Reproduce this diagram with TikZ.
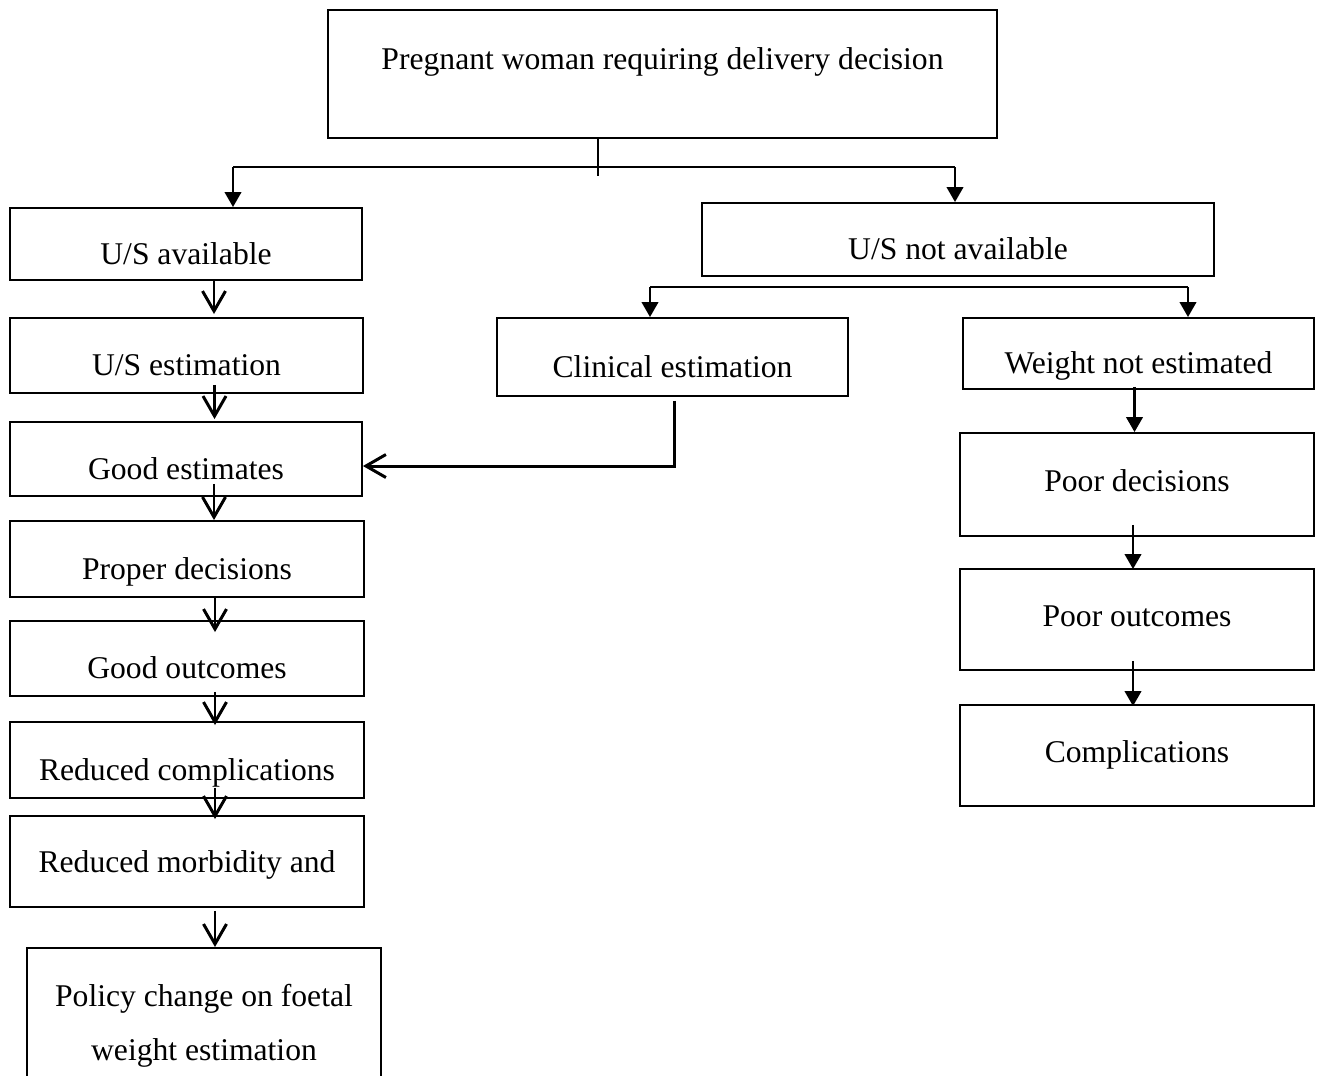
\documentclass[tikz,border=0pt]{standalone}
\usepackage{fontspec}
\setmainfont{Liberation Serif}
\usetikzlibrary{positioning,arrows.meta,calc}
\tikzset{
  box/.style={draw, line width=1.1pt, minimum width=7.08cm, inner sep=0pt, text height=0.95cm, text depth=0.15cm},
  lowbox/.style={box, text height=0.45cm, text depth=0.19cm},
  plainline/.style={line width=1.2pt},
  fillarrow/.style={-{Triangle[length=3mm,width=3.3mm]}, line width=1.4pt},
  openarrow/.style={-{Straight Barb[length=4mm,width=4.6mm]}, line width=1.7pt}
}
\begin{document}
\begin{tikzpicture}[x=0.02cm, y=-0.02cm, every node/.style={font=\fontsize{18}{30.7}\selectfont}]
      \useasboundingbox (0,0) rectangle (1317,1075);
      \clip (0,0) rectangle (1317,1075);
      \node[box, minimum width=13.38cm, minimum height=2.56cm, text height=0.45cm, text depth=0.65cm] (top) at (662.5,74) {Pregnant woman requiring delivery decision};
      \node[box, minimum width=7.04cm, minimum height=1.44cm] (usa) at (186,244) {U/S available};
      \node[box, minimum width=10.24cm, minimum height=1.46cm] (usna) at (958,239.5) {U/S not available};
      \node[box, minimum width=7.06cm, minimum height=1.5cm] (usest) at (186.5,355.5) {U/S estimation};
      \node[box, minimum width=7.02cm, minimum height=1.56cm] (clin) at (672.5,357) {Clinical estimation};
      \node[box, minimum width=7.02cm, minimum height=1.42cm] (wne) at (1138.5,353.5) {Weight not estimated};
      \node[box, minimum width=7.04cm, minimum height=1.48cm] (goodest) at (186,459) {Good estimates};
      \node[box, minimum height=1.52cm] (proper) at (187,559) {Proper decisions};
      \node[box, minimum height=1.5cm] (goodout) at (187,658.5) {Good outcomes};
      \node[box, minimum height=1.52cm] (redcomp) at (187,760) {Reduced complications};
      \node[box, minimum height=1.82cm, text height=0.6cm, text depth=0.15cm] (redmorb) at (187,861.5) {Reduced morbidity and};
      \node[box, anchor=north, align=center, text height={}, text depth={}, inner ysep=0.73cm] (policy) at (204,947) {Policy change on foetal\\weight estimation};
      \node[lowbox, minimum height=2.06cm] (poordec) at (1137,484.5) {Poor decisions};
      \node[lowbox, minimum height=2.02cm] (poorout) at (1137,619.5) {Poor outcomes};
      \node[lowbox, minimum height=2.02cm] (compl) at (1137,755.5) {Complications};
      \coordinate (jl) at (233,167);
      \coordinate (jr) at (955,167);
      \draw[plainline] ([shift={(-64.5,0)}]top.south) -- ++(0,37);
      \draw[plainline] (jl) -- (jr);
      \draw[fillarrow] (jl) -- (jl |- usa.north);
      \draw[fillarrow] (jr) -- (jr |- usna.north);
      \coordinate (sl) at (650,287);
      \coordinate (sr) at (1188,287);
      \draw[plainline] (sl) -- (sr);
      \draw[fillarrow] (sl) -- (sl |- clin.north);
      \draw[fillarrow] (sr) -- (sr |- wne.north);
      \draw[openarrow] ([shift={(1.5,4)}]clin.south) |- ([shift={(0,7)}]goodest.east);
      \foreach \a/\b/\s/\e in {usa/usest/0/-3, usest/goodest/9/-2, goodest/proper/13/0, proper/goodout/0/12, goodout/redcomp/5/4, redcomp/redmorb/11/4, redmorb/policy/-3/0}{
        \coordinate (p) at ([shift={(28,0)}]\a.south);
        \draw[openarrow] ([shift={(0,-\s)}]p) -- ($(p |- \b.north)+(0,\e)$);
      }
      \foreach \a/\b/\s/\e in {wne/poordec/3/0, poordec/poorout/12/1, poorout/compl/10/2}{
        \coordinate (q) at ([shift={(-4,0)}]\a.south);
        \draw[fillarrow] ([shift={(0,-\s)}]q) -- ($(q |- \b.north)+(0,\e)$);
      }
    \end{tikzpicture}
\end{document}
